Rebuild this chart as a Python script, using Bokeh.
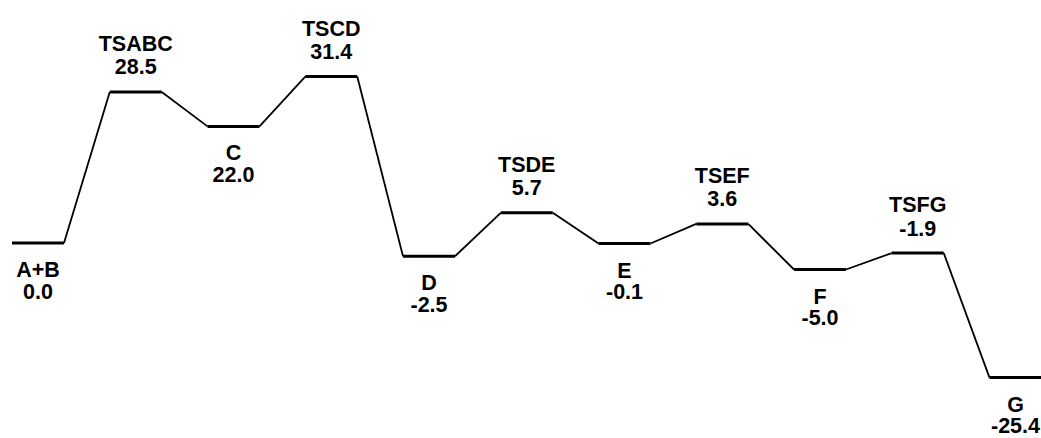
from bokeh.plotting import figure
from bokeh.models import ColumnDataSource, Range1d
from bokeh.core.properties import value
from bokeh.embed import file_html
from bokeh.resources import INLINE

# Data
states = ["A+B", "TSABC", "C", "TSCD", "D", "TSDE", "E", "TSEF", "F", "TSFG", "G"]
energies = [0.0, 28.5, 22.0, 31.4, -2.5, 5.7, -0.1, 3.6, -5.0, -1.9, -25.4]

n = len(states)
idx = list(range(n))
hw = 0.266  # half-width of each level in slot units

x0 = [i - hw for i in idx]
x1 = [i + hw for i in idx]
is_ts = [s.startswith("TS") for s in states]
labels_val = ["%.1f" % e for e in energies]

name_off = [-48 if t else 27 for t in is_ts]
val_off = [-25 if t else 48 for t in is_ts]

src = ColumnDataSource(dict(x=idx, x0=x0, x1=x1, y=energies, name=states,
                            val=labels_val, noff=name_off, voff=val_off))

conn = ColumnDataSource(dict(x0=x1[:-1], y0=energies[:-1], x1=x0[1:], y1=energies[1:]))

W, H = 1041, 438
sx = 97.75
sy = 5.3
xs = -37.5 / sx
ys_top = 242.5 / sy
p = figure(width=W, height=H, output_backend="svg", toolbar_location=None,
           x_range=Range1d(xs, xs + W / sx), y_range=Range1d(ys_top - H / sy, ys_top),
           min_border=0, outline_line_color=None, background_fill_color="white")
p.axis.visible = False
p.grid.visible = False

p.segment(x0="x0", y0="y0", x1="x1", y1="y1", source=conn, line_color="black", line_width=1.8)
p.segment(x0="x0", y0="y", x1="x1", y1="y", source=src, line_color="black", line_width=3)

common = dict(text_font=value("Liberation Sans"), text_font_style="bold",
              text_font_size="21.5px", text_align="center", text_baseline="alphabetic",
              text_color="black")
p.text(x="x", y="y", text="name", y_offset="noff", source=src, **common)
p.text(x="x", y="y", text="val", y_offset="voff", source=src, **common)

open("out.html", "w").write(file_html(p, INLINE))
